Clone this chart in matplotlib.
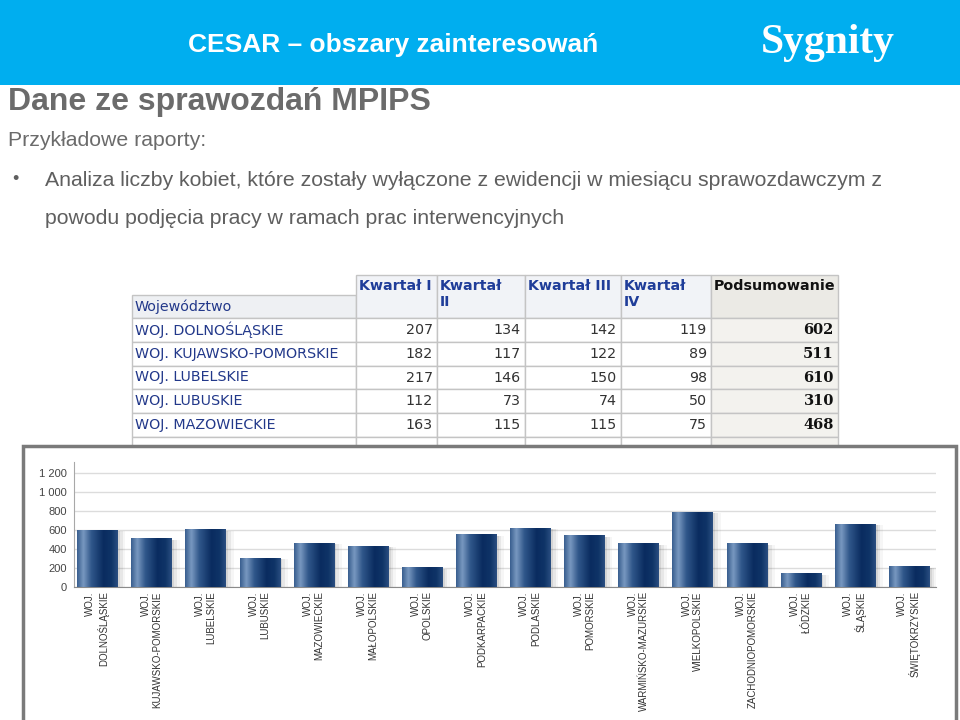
import numpy as np
import matplotlib
matplotlib.use("Agg")
from matplotlib import pyplot as plt
from matplotlib.patches import Rectangle
from matplotlib.colors import LinearSegmentedColormap

plt.rcParams['font.family'] = ['Liberation Sans', 'DejaVu Sans']

# ---- data ----
provinces = ["DOLNOŚLĄSKIE", "KUJAWSKO-POMORSKIE", "LUBELSKIE", "LUBUSKIE",
             "MAZOWIECKIE", "MAŁOPOLSKIE", "OPOLSKIE", "PODKARPACKIE",
             "PODLASKIE", "POMORSKIE", "WARMIŃSKO-MAZURSKIE", "WIELKOPOLSKIE",
             "ZACHODNIOPOMORSKIE", "ŁÓDZKIE", "ŚLĄSKIE", "ŚWIĘTOKRZYSKIE"]
totals = [602, 511, 610, 310, 468, 432, 208, 554,
          621, 547, 462, 794, 462, 145, 667, 219]

table_rows = ["WOJ. DOLNOŚLĄSKIE", "WOJ. KUJAWSKO-POMORSKIE", "WOJ. LUBELSKIE",
              "WOJ. LUBUSKIE", "WOJ. MAZOWIECKIE"]
q1 = [207, 182, 217, 112, 163]
q2 = [134, 117, 146, 73, 115]
q3 = [142, 122, 150, 74, 115]
q4 = [119, 89, 98, 50, 75]
summary = [602, 511, 610, 310, 468]
col_headers = ["Kwartał I", "Kwartał\nII", "Kwartał III", "Kwartał\nIV", "Podsumowanie"]

y_ticks = [0, 200, 400, 600, 800, 1000, 1200]
y_labels = ["{:,}".format(v).replace(",", " ") for v in y_ticks]

fig = plt.figure(figsize=(9.6, 7.2), dpi=100)

# slide background in pixel coordinates
bg = fig.add_axes([0, 0, 1, 1], zorder=0)
bg.set_xlim(0, 960)
bg.set_ylim(720, 0)
bg.axis("off")

bg.add_patch(Rectangle((0, 0), 960, 85, color="#00aeef", lw=0))
bg.text(393, 45, "CESAR – obszary zainteresowań", color="white", fontsize=19,
        fontweight="bold", ha="center", va="center")
bg.text(828, 43, "Sygnity", color="white", fontsize=30, fontweight="bold",
        ha="center", va="center", family=["Liberation Serif", "DejaVu Serif"])

gray = "#6b6b6b"
bg.text(8, 102, "Dane ze sprawozdań MPIPS", color=gray, fontsize=23,
        fontweight="bold", ha="left", va="center")
bg.text(8, 141, "Przykładowe raporty:", color=gray, fontsize=15.3,
        ha="left", va="center")
bg.text(12, 180, "•", color="#5f5f5f", fontsize=13, ha="left", va="center")
bg.text(45, 180, "Analiza liczby kobiet, które zostały wyłączone z ewidencji w miesiącu sprawozdawczym z",
        color="#5f5f5f", fontsize=15.3, ha="left", va="center")
bg.text(45, 218, "powodu podjęcia pracy w ramach prac interwencyjnych",
        color="#5f5f5f", fontsize=15.3, ha="left", va="center")

# ---- table ----
col_x = [132, 356, 437, 525, 621, 711, 838]
row_h = 23.8
hdr_top, hdr_bot = 275, 318
line_c = "#c4c4c4"
blue_txt = "#22388a"
tfs = 10.3

# header cells
bg.add_patch(Rectangle((col_x[0], 295), col_x[1] - col_x[0], hdr_bot - 295,
                       facecolor="#eef0f3", edgecolor=line_c, lw=1))
bg.text(col_x[0] + 3, 307, "Województwo", color=blue_txt, fontsize=tfs,
        ha="left", va="center", family="DejaVu Sans")
for i, h in enumerate(col_headers):
    x0, x1 = col_x[i + 1], col_x[i + 2]
    last = i == len(col_headers) - 1
    bg.add_patch(Rectangle((x0, hdr_top), x1 - x0, hdr_bot - hdr_top,
                           facecolor="#ebeae5" if last else "#f1f3f7",
                           edgecolor=line_c, lw=1))
    bg.text(x0 + 3, hdr_top + 4, h, color="#111111" if last else "#1f3d99",
            fontsize=tfs, fontweight="bold", ha="left", va="top",
            linespacing=1.15, family="DejaVu Sans")

# data rows (plus one partially hidden row)
for r in range(len(table_rows) + 1):
    y0 = hdr_bot + r * row_h
    yc = y0 + row_h / 2
    for c in range(6):
        x0, x1 = col_x[c], col_x[c + 1]
        fc = "#f3f2ee" if c == 5 else "white"
        bg.add_patch(Rectangle((x0, y0), x1 - x0, row_h, facecolor=fc,
                               edgecolor=line_c, lw=1))
    if r < len(table_rows):
        bg.text(col_x[0] + 3, yc, table_rows[r], color=blue_txt, fontsize=tfs,
                ha="left", va="center", family="DejaVu Sans")
        vals = [q1[r], q2[r], q3[r], q4[r]]
        for c, v in enumerate(vals):
            bg.text(col_x[c + 2] - 4, yc, str(v), color="#333333", fontsize=tfs,
                    ha="right", va="center", family="DejaVu Sans")
        bg.text(col_x[6] - 4, yc, str(summary[r]), color="#111111", fontsize=10.5,
                fontweight="bold", ha="right", va="center", family="DejaVu Serif")

# chart frame
bg.add_patch(Rectangle((23, 446), 933, 290, facecolor="white",
                       edgecolor="#7a7a7a", lw=2.5, zorder=5))

# ---- bar chart ----
ax = fig.add_axes([74 / 960, 1 - 587 / 720, (936 - 74) / 960, (587 - 461.7) / 720],
                  zorder=2)
ax.set_facecolor("none")
x = np.arange(len(provinces))
bars = ax.bar(x, totals, width=0.74, color="#0d3366", zorder=3)

bar_cmap = LinearSegmentedColormap.from_list("cyl", [
    (0.0, "#3a5f90"), (0.15, "#7898c0"), (0.35, "#30578a"),
    (0.65, "#0a2c60"), (0.85, "#0f3467"), (1.0, "#2a4e80")])
grad = np.linspace(0, 1, 64).reshape(1, -1)
for b in bars:
    bx, bw, bh = b.get_x(), b.get_width(), b.get_height()
    # soft shadow on the right
    for k, a in zip([0.05, 0.10, 0.15], [0.13, 0.09, 0.05]):
        ax.add_patch(Rectangle((bx + k, 0), bw, bh - 15, facecolor="#555555",
                               alpha=a, lw=0, zorder=2))
    im = ax.imshow(grad, cmap=bar_cmap, extent=[bx, bx + bw, 0, bh],
                   aspect="auto", zorder=4, interpolation="bilinear")
    im.set_clip_path(b)

ax.set_xlim(-0.43, len(provinces) - 0.5)
ax.set_ylim(0, 1320)
ax.set_yticks(y_ticks)
ax.set_yticklabels(y_labels)
ax.yaxis.grid(True, color="#dcdcdc", lw=1, zorder=0)
ax.tick_params(axis="y", length=0, pad=5, labelsize=8, labelcolor="#444444")
ax.tick_params(axis="x", length=0, pad=3)
ax.set_xticks(x)
ax.set_xticklabels(["WOJ.\n" + p for p in provinces], rotation=90, fontsize=7,
                   color="#333333", ha="center", va="top",
                   multialignment="right", linespacing=1.2)
for s in ["top", "right"]:
    ax.spines[s].set_visible(False)
ax.spines["left"].set_color("#a8a8a8")
ax.spines["bottom"].set_color("#8a8a8a")

fig.savefig("out.png", dpi=100)
